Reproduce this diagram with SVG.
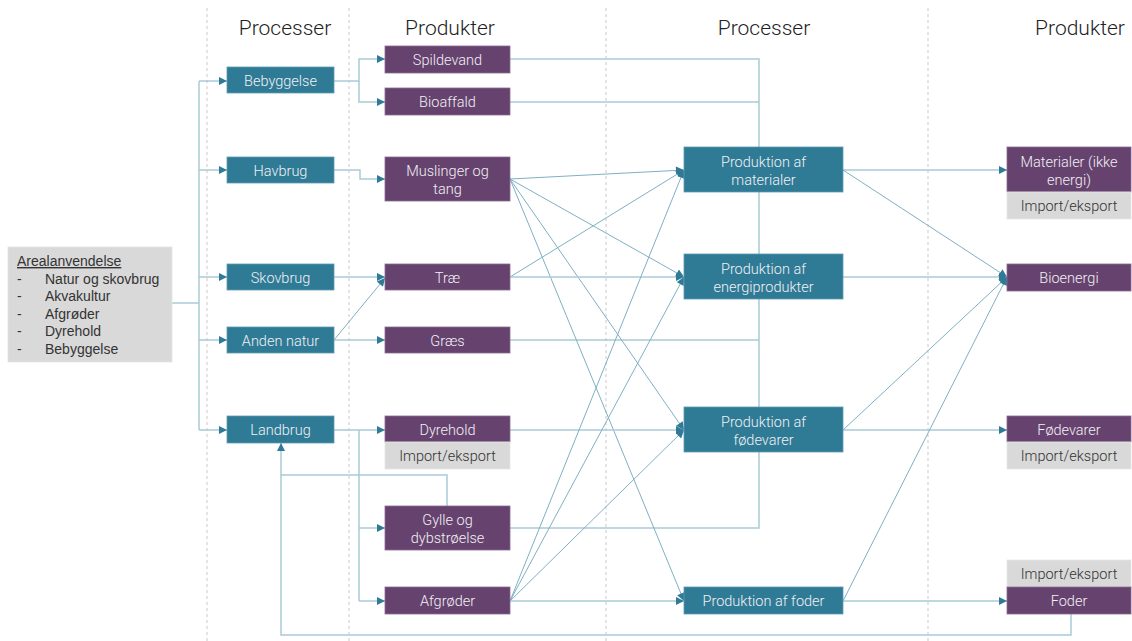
<svg xmlns="http://www.w3.org/2000/svg" width="1132" height="641" viewBox="0 0 1132 641">
<style>
.bg{fill:#ffffff}
.dash{stroke:#c9c9c9;stroke-width:1;stroke-dasharray:3 3;fill:none}
.hdr{font-family:Roboto,"Liberation Sans",sans-serif;font-weight:300;font-size:21px;fill:#222;text-anchor:middle}
.proc{fill:#2f7b96;stroke:#5f9bb2;stroke-width:0.8}
.prod{fill:#66436f;stroke:#8a6a92;stroke-width:0.8}
.imp{fill:#d9d9d9;stroke:#e6e6e6;stroke-width:0.8}
.lbl{font-family:Roboto,"Liberation Sans",sans-serif;font-weight:300;font-size:14.5px;fill:#f2f0f4;text-anchor:middle}
.ilbl{font-family:Roboto,"Liberation Sans",sans-serif;font-weight:300;font-size:14.5px;fill:#333;text-anchor:middle}
.ltxt{font-family:"Liberation Sans",Arial,sans-serif;font-size:14px;fill:#333}
.c{stroke:#a9cad7;stroke-width:1.5;fill:none}
.d{stroke:#7fb0c3;stroke-width:1;fill:none}
.ar{marker-end:url(#a)}
</style>
<defs>
<marker id="a" viewBox="0 0 10 10" refX="10" refY="5" markerWidth="9" markerHeight="8" markerUnits="userSpaceOnUse" orient="auto"><path d="M0,0 L10,5 L0,10 z" fill="#2f7b96"/></marker>
</defs>
<rect class="bg" x="0" y="0" width="1132" height="641"/>
<g id="guides">
<line class="dash" x1="207" y1="8" x2="207" y2="641"/>
<line class="dash" x1="349" y1="8" x2="349" y2="641"/>
<line class="dash" x1="606" y1="8" x2="606" y2="641"/>
<line class="dash" x1="928" y1="8" x2="928" y2="641"/>
</g>
<g id="headers">
<text class="hdr" x="285" y="35">Processer</text>
<text class="hdr" x="450" y="35">Produkter</text>
<text class="hdr" x="764" y="35">Processer</text>
<text class="hdr" x="1080" y="35">Produkter</text>
</g>
<g id="connectors">
<path class="c" d="M172,303 H199"/>
<path class="c" d="M199,81 V430"/>
<path class="c ar" d="M199,81 H227"/>
<path class="c ar" d="M199,170 H227"/>
<path class="c ar" d="M199,277 H227"/>
<path class="c ar" d="M199,340 H227"/>
<path class="c ar" d="M199,430 H227"/>
<path class="c ar" d="M334,81 H359 V59 H385"/>
<path class="c ar" d="M359,81 V102 H385"/>
<path class="c ar" d="M334,170 H360 V179 H385"/>
<path class="c ar" d="M334,277 H385"/>
<path class="d ar" d="M334,340 L385,278"/>
<path class="c ar" d="M334,340 H385"/>
<path class="c ar" d="M334,430 H385"/>
<path class="c" d="M359,430 V601"/>
<path class="c ar" d="M359,528 H385"/>
<path class="c ar" d="M359,601 H385"/>
<path class="c ar" d="M447,506 V475 H281 V443"/>
<path class="c" d="M1071,614 V635 H281 V475"/>
<path class="c" d="M510,59 H759 V528 H510"/>
<path class="c" d="M510,102 H759"/>
<path class="c" d="M510,340 H759"/>
<path class="d ar" d="M510,179 L684,170"/>
<path class="d ar" d="M510,179 L684,277"/>
<path class="d ar" d="M510,179 L684,430"/>
<path class="d ar" d="M510,179 L684,601"/>
<path class="d ar" d="M510,277 L684,170"/>
<path class="c ar" d="M510,277 H684"/>
<path class="c ar" d="M510,430 H684"/>
<path class="d ar" d="M510,601 L684,170"/>
<path class="d ar" d="M510,601 L684,277"/>
<path class="d ar" d="M510,601 L684,430"/>
<path class="c ar" d="M510,601 H684"/>
<path class="c ar" d="M843,170 H1007"/>
<path class="d ar" d="M843,170 L1007,277"/>
<path class="c ar" d="M843,277 H1007"/>
<path class="d ar" d="M843,430 L1007,277"/>
<path class="c ar" d="M843,430 H1007"/>
<path class="d ar" d="M843,601 L1007,277"/>
<path class="c ar" d="M843,601 H1007"/>
</g>
<g id="arealanvendelse">
<rect x="8" y="247" width="164" height="115" fill="#d9d9d9" stroke="#e4e4e4" stroke-width="0.8"/>
<text class="ltxt" x="17" y="266" text-decoration="underline">Arealanvendelse</text>
<text class="ltxt" x="17" y="284">-</text><text class="ltxt" x="45" y="284">Natur og skovbrug</text>
<text class="ltxt" x="17" y="301">-</text><text class="ltxt" x="45" y="301">Akvakultur</text>
<text class="ltxt" x="17" y="319">-</text><text class="ltxt" x="45" y="319">Afgrøder</text>
<text class="ltxt" x="17" y="336">-</text><text class="ltxt" x="45" y="336">Dyrehold</text>
<text class="ltxt" x="17" y="354">-</text><text class="ltxt" x="45" y="354">Bebyggelse</text>
</g>
<g id="bebyggelse"><rect class="proc" x="227" y="67" width="107" height="26"/><text class="lbl" x="280.5" y="86">Bebyggelse</text></g>
<g id="havbrug"><rect class="proc" x="227" y="157" width="107" height="26"/><text class="lbl" x="280.5" y="176">Havbrug</text></g>
<g id="skovbrug"><rect class="proc" x="227" y="264" width="107" height="26"/><text class="lbl" x="280.5" y="283">Skovbrug</text></g>
<g id="anden-natur"><rect class="proc" x="227" y="327" width="107" height="26"/><text class="lbl" x="280.5" y="346">Anden natur</text></g>
<g id="landbrug"><rect class="proc" x="227" y="416" width="107" height="27"/><text class="lbl" x="280.5" y="435">Landbrug</text></g>
<g id="spildevand"><rect class="prod" x="385" y="46" width="125" height="27"/><text class="lbl" x="447.5" y="65">Spildevand</text></g>
<g id="bioaffald"><rect class="prod" x="385" y="88" width="125" height="27"/><text class="lbl" x="447.5" y="107">Bioaffald</text></g>
<g id="muslinger"><rect class="prod" x="385" y="157" width="125" height="44"/><text class="lbl" x="447.5" y="176">Muslinger og</text><text class="lbl" x="447.5" y="194">tang</text></g>
<g id="trae"><rect class="prod" x="385" y="264" width="125" height="26"/><text class="lbl" x="447.5" y="283">Træ</text></g>
<g id="graes"><rect class="prod" x="385" y="327" width="125" height="26"/><text class="lbl" x="447.5" y="346">Græs</text></g>
<g id="dyrehold"><rect class="prod" x="385" y="416" width="125" height="26"/><text class="lbl" x="447.5" y="435">Dyrehold</text><rect class="imp" x="385" y="442" width="125" height="27"/><text class="ilbl" x="447.5" y="461">Import/eksport</text></g>
<g id="gylle"><rect class="prod" x="385" y="506" width="125" height="44"/><text class="lbl" x="447.5" y="525">Gylle og</text><text class="lbl" x="447.5" y="543">dybstrøelse</text></g>
<g id="afgroeder"><rect class="prod" x="385" y="587" width="125" height="27"/><text class="lbl" x="447.5" y="606">Afgrøder</text></g>
<g id="prod-materialer"><rect class="proc" x="684" y="147" width="159" height="45"/><text class="lbl" x="763.5" y="167">Produktion af</text><text class="lbl" x="763.5" y="185">materialer</text></g>
<g id="prod-energi"><rect class="proc" x="684" y="254" width="159" height="45"/><text class="lbl" x="763.5" y="274">Produktion af</text><text class="lbl" x="763.5" y="292">energiprodukter</text></g>
<g id="prod-foedevarer"><rect class="proc" x="684" y="407" width="159" height="45"/><text class="lbl" x="763.5" y="427">Produktion af</text><text class="lbl" x="763.5" y="445">fødevarer</text></g>
<g id="prod-foder"><rect class="proc" x="684" y="587" width="159" height="27"/><text class="lbl" x="763.5" y="606">Produktion af foder</text></g>
<g id="materialer"><rect class="prod" x="1007" y="147" width="124" height="45"/><text class="lbl" x="1069" y="167">Materialer (ikke</text><text class="lbl" x="1069" y="185">energi)</text><rect class="imp" x="1007" y="192" width="124" height="27"/><text class="ilbl" x="1069" y="211">Import/eksport</text></g>
<g id="bioenergi"><rect class="prod" x="1007" y="264" width="124" height="27"/><text class="lbl" x="1069" y="283">Bioenergi</text></g>
<g id="foedevarer"><rect class="prod" x="1007" y="416" width="124" height="26"/><text class="lbl" x="1069" y="435">Fødevarer</text><rect class="imp" x="1007" y="442" width="124" height="27"/><text class="ilbl" x="1069" y="461">Import/eksport</text></g>
<g id="foder"><rect class="imp" x="1007" y="560" width="124" height="27"/><text class="ilbl" x="1069" y="579">Import/eksport</text><rect class="prod" x="1007" y="587" width="124" height="27"/><text class="lbl" x="1069" y="606">Foder</text></g>
</svg>
